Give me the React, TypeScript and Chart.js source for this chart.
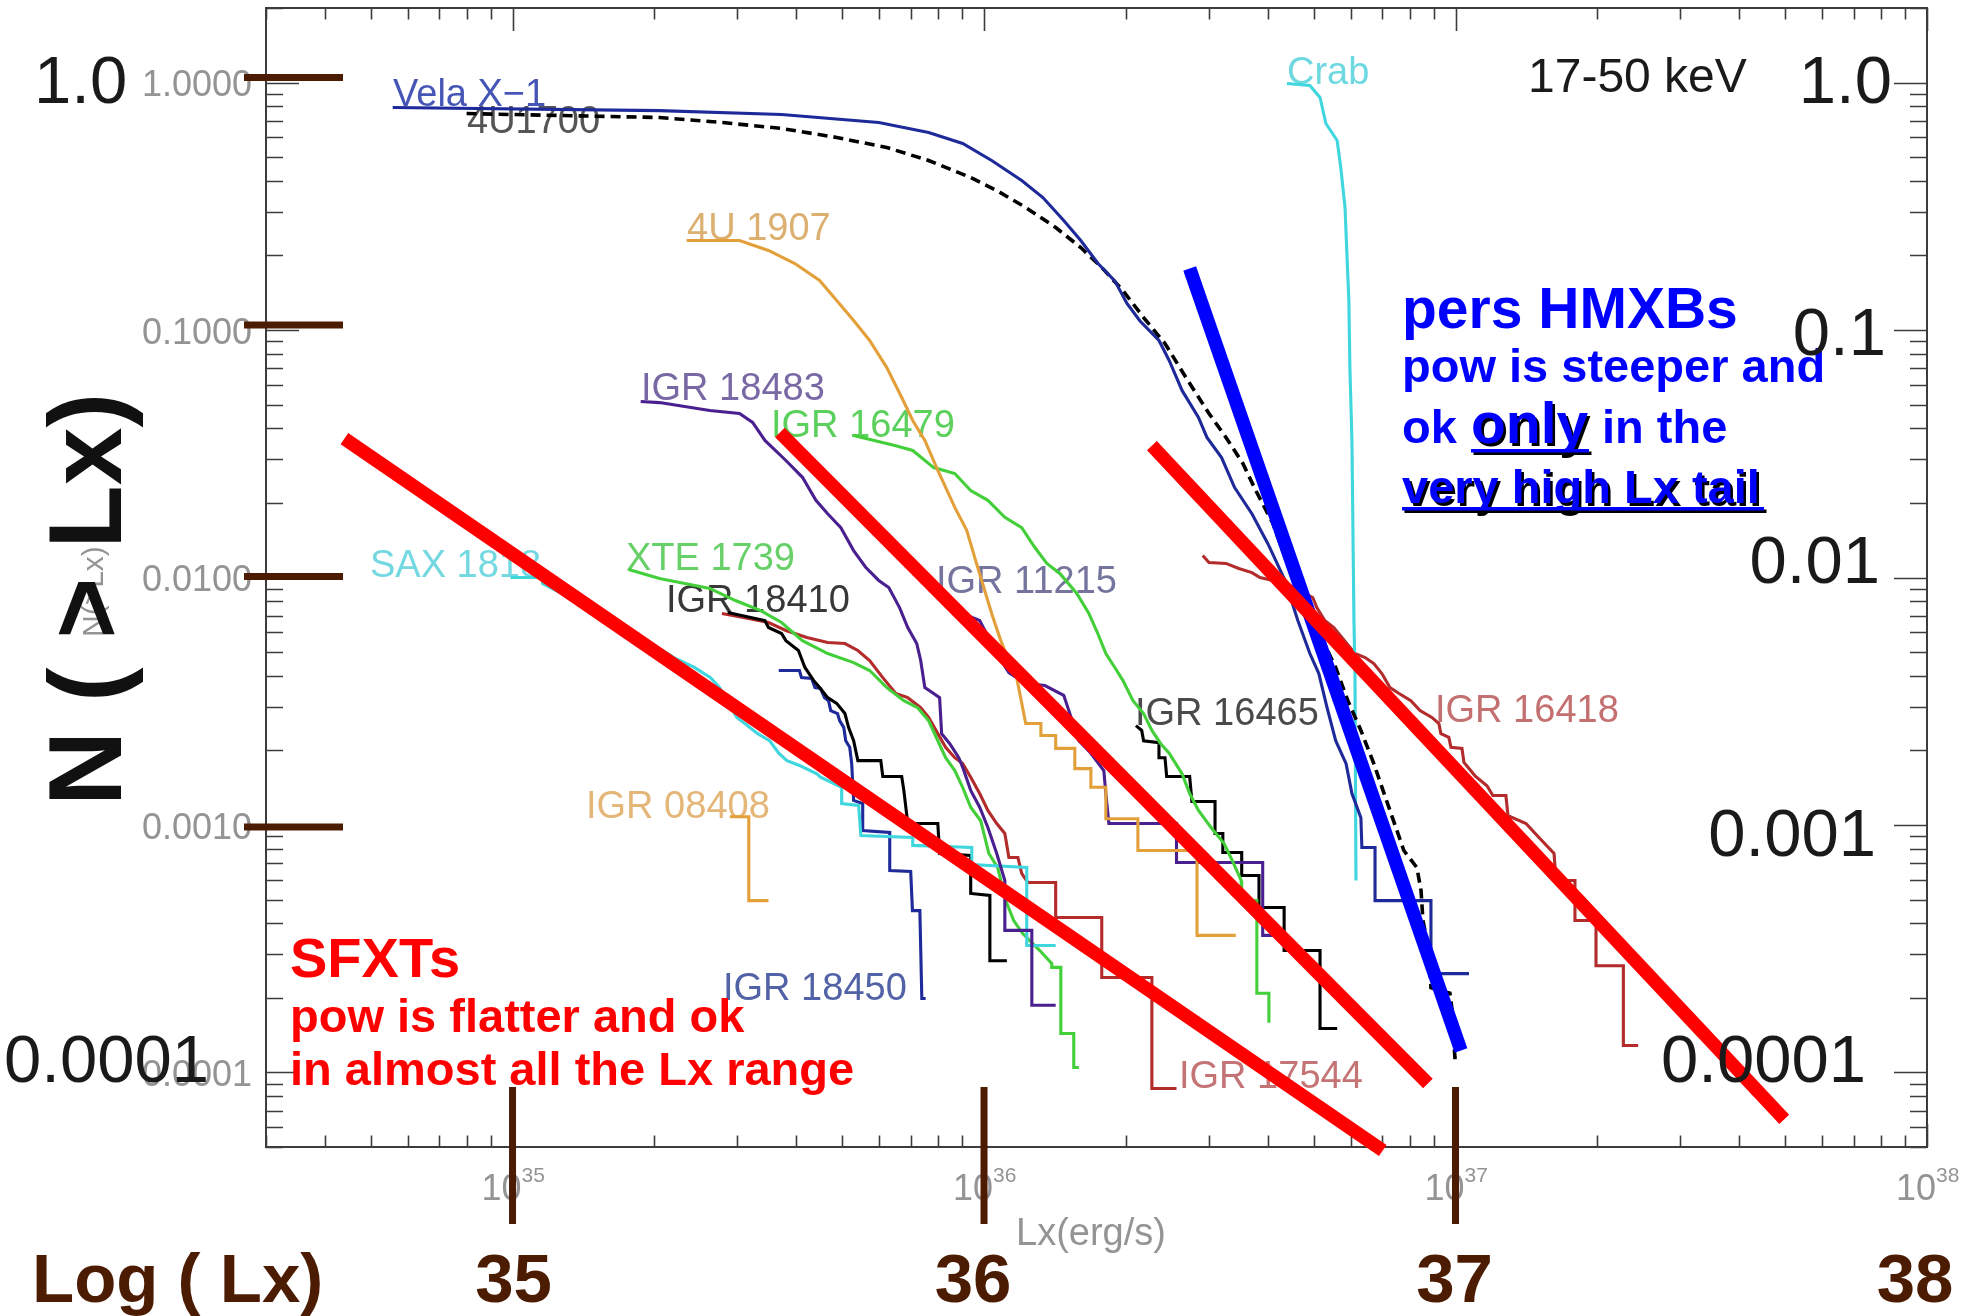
import React, { useEffect, useRef } from "react";
import { Chart, registerables } from "chart.js";

Chart.register(...registerables);

type Pt = [number, number];

const W = 1983;
const H = 1316;
const FONT = "'Liberation Sans', Arial, Helvetica, sans-serif";
const BROWN = "#4b1b02";

// ---- axis ranges ----
const X_MIN = 3e34;
const X_MAX = 1e38;
const Y_MIN = 5e-5;
const Y_MAX = 2;

// ---- tick labels ----
const xDecades = [35, 36, 37, 38];
const yIdlTickValues = [1, 0.1, 0.01, 0.001, 0.0001];
const yIdlTickLabels = ["1.0000", "0.1000", "0.0100", "0.0010", "0.0001"];
const brownYMarkValues = [1, 0.1, 0.01, 0.001];
const brownXMarkValues = [1e35, 1e36, 1e37];
const logLxValues = [1e35, 1e36, 1e37, 1e38];
const logLxLabels = ["35", "36", "37", "38"];
const bigRightValues = [1, 0.1, 0.01, 0.001, 0.0001];
const bigRightLabels = ["1.0", "0.1", "0.01", "0.001", "0.0001"];
const bigLeftValues = [1, 0.0001];
const bigLeftLabels = ["1.0", "0.0001"];

// ---- series: [Lx (erg/s), N(>Lx)] ----
const velaX1: Pt[] = [
  [5.57e34, 0.793], [2.05e35, 0.77], [3.72e35, 0.743], [5.98e35, 0.689], [7.63e35, 0.628],
  [9.01e35, 0.567], [1.038e36, 0.484], [1.202e36, 0.402], [1.333e36, 0.343], [1.476e36, 0.277],
  [1.604e36, 0.23], [1.743e36, 0.186], [1.894e36, 0.158], [2.01e36, 0.128], [2.14e36, 0.109],
  [2.35e36, 0.0907], [2.47e36, 0.0753], [2.63e36, 0.057], [2.85e36, 0.0443], [2.97e36, 0.0368],
  [3.19e36, 0.0305], [3.4e36, 0.0231], [3.7e36, 0.0181], [4.0e36, 0.0137], [4.35e36, 0.00973],
  [4.63e36, 0.0067], [4.91e36, 0.00493], [5.13e36, 0.00409], [5.34e36, 0.00298], [5.57e36, 0.00219],
  [5.86e36, 0.00177], [6.03e36, 0.00134], [6.3e36, 0.00107], [6.33e36, 0.000811], [6.75e36, 0.000811],
  [6.75e36, 0.000495], [8.87e36, 0.000495], [8.87e36, 0.000251], [1.068e37, 0.000251],
];
const src4U1700: Pt[] = [
  [7.99e34, 0.749], [2.05e35, 0.722], [2.79e35, 0.689], [3.72e35, 0.652], [4.87e35, 0.6],
  [6.22e35, 0.546], [7.63e35, 0.484], [9.37e35, 0.413], [1.064e36, 0.366], [1.226e36, 0.3126],
  [1.419e36, 0.2595], [1.604e36, 0.2154], [1.777e36, 0.1789], [1.97e36, 0.1444], [2.18e36, 0.1123],
  [2.42e36, 0.0882], [2.68e36, 0.0643], [3.0e36, 0.046], [3.26e36, 0.0368], [3.54e36, 0.0289],
  [3.77e36, 0.02246], [4.1e36, 0.01652], [4.43e36, 0.01098], [4.82e36, 0.00756], [5.23e36, 0.00556],
  [5.57e36, 0.00433], [5.91e36, 0.00318], [6.3e36, 0.00241], [6.71e36, 0.00177], [7.26e36, 0.001145],
  [7.77e36, 0.000789], [8.28e36, 0.000673], [8.45e36, 0.000544], [8.53e36, 0.000411], [8.79e36, 0.000311],
  [8.87e36, 0.00022], [9.73e36, 0.000209], [9.82e36, 0.000183], [9.97e36, 0.000115], [1.03e37, 0.000115],
];
const crab: Pt[] = [
  [4.39e36, 0.991], [4.91e36, 0.972], [5.16e36, 0.87], [5.31e36, 0.683], [5.61e36, 0.583],
  [5.71e36, 0.453], [5.83e36, 0.3126], [5.88e36, 0.2096], [5.94e36, 0.1315], [5.97e36, 0.0705],
  [6.03e36, 0.0358], [6.09e36, 0.0067], [6.12e36, 0.00409], [6.15e36, 0.000597],
];
const src4U1907: Pt[] = [
  [2.34e35, 0.23], [3.03e35, 0.23], [3.49e35, 0.2096], [3.97e35, 0.1856], [4.48e35, 0.1585],
  [4.87e35, 0.1315], [5.29e35, 0.1092], [5.72e35, 0.0907], [6.22e35, 0.0705], [6.69e35, 0.0534],
  [7.06e35, 0.0431], [7.49e35, 0.0358], [7.98e35, 0.0271], [8.67e35, 0.0192], [9.19e35, 0.0155],
  [9.6e35, 0.0117], [9.99e35, 0.00911], [1.038e36, 0.00715], [1.085e36, 0.00556], [1.129e36, 0.00462],
  [1.168e36, 0.00409], [1.191e36, 0.0034], [1.226e36, 0.00257], [1.32e36, 0.00257], [1.32e36, 0.0023],
  [1.419e36, 0.0023], [1.419e36, 0.00204], [1.558e36, 0.00204], [1.558e36, 0.00169], [1.685e36, 0.00169],
  [1.685e36, 0.00142], [1.813e36, 0.00142], [1.813e36, 0.00106], [2.12e36, 0.00106], [2.12e36, 0.000789],
  [2.83e36, 0.000789], [2.83e36, 0.000358], [3.42e36, 0.000358],
];
const igr18483: Pt[] = [
  [1.87e35, 0.0514], [2.05e35, 0.0509], [2.62e35, 0.0473], [3.03e35, 0.046], [3.23e35, 0.0423],
  [3.43e35, 0.0358], [3.8e35, 0.0297], [4.12e35, 0.0254], [4.4e35, 0.0205], [4.66e35, 0.0181],
  [4.97e35, 0.0159], [5.29e35, 0.01285], [5.61e35, 0.011], [5.98e35, 0.00973], [6.28e35, 0.00911],
  [6.62e35, 0.00756], [6.89e35, 0.00628], [7.2e35, 0.00541], [7.34e35, 0.00462], [7.49e35, 0.00359],
  [7.82e35, 0.0034], [8.05e35, 0.00327], [8.13e35, 0.00234], [8.46e35, 0.00213], [8.84e35, 0.00187],
  [9.01e35, 0.00171], [9.37e35, 0.00138], [9.79e35, 0.00118], [1.019e36, 0.000977], [1.064e36, 0.000767],
  [1.107e36, 0.000597], [1.107e36, 0.000375], [1.263e36, 0.000375], [1.263e36, 0.000187], [1.419e36, 0.000187],
];
const igr16479: Pt[] = [
  [5.29e35, 0.0375], [6.5e35, 0.0341], [7.06e35, 0.0326], [7.82e35, 0.0278], [8.67e35, 0.0263],
  [9.37e35, 0.02246], [1.019e36, 0.0205], [1.107e36, 0.0175], [1.202e36, 0.0159], [1.282e36, 0.01322],
  [1.359e36, 0.0114], [1.448e36, 0.01038], [1.573e36, 0.00862], [1.669e36, 0.00715], [1.743e36, 0.00594],
  [1.813e36, 0.00493], [1.894e36, 0.00433], [1.97e36, 0.00384], [2.07e36, 0.00318], [2.18e36, 0.00282],
  [2.27e36, 0.00241], [2.37e36, 0.00213], [2.47e36, 0.00195], [2.63e36, 0.00161], [2.73e36, 0.00134],
  [2.85e36, 0.001145], [3.03e36, 0.000977], [3.23e36, 0.000842], [3.36e36, 0.000719], [3.51e36, 0.000597],
  [3.52e36, 0.000495], [3.79e36, 0.000495], [3.79e36, 0.000209], [4.02e36, 0.000209], [4.02e36, 0.000159],
];
const igr11215: Pt[] = [
  [7.94e35, 0.00846], [8.46e35, 0.0075], [9.79e35, 0.0067], [1.064e36, 0.00493], [1.129e36, 0.00413],
  [1.226e36, 0.00373], [1.346e36, 0.00366], [1.476e36, 0.00334], [1.506e36, 0.00298], [1.589e36, 0.00219],
  [1.685e36, 0.00195], [1.795e36, 0.00166], [1.813e36, 0.00134], [1.84e36, 0.001014], [2.56e36, 0.001014],
  [2.56e36, 0.000705], [3.9e36, 0.000705], [3.9e36, 0.000358], [4.28e36, 0.000358],
];
const igr16465: Pt[] = [
  [2.1e36, 0.00252], [2.16e36, 0.00241], [2.18e36, 0.00219], [2.35e36, 0.00215], [2.35e36, 0.00187],
  [2.42e36, 0.00187], [2.44e36, 0.00157], [2.73e36, 0.00157], [2.76e36, 0.001245], [3.09e36, 0.001245],
  [3.09e36, 0.000924], [3.21e36, 0.000924], [3.21e36, 0.000774], [3.52e36, 0.000774], [3.52e36, 0.000625],
  [3.83e36, 0.000625], [3.83e36, 0.000464], [4.33e36, 0.000464], [4.33e36, 0.000311], [5.16e36, 0.000311],
  [5.16e36, 0.0001506], [5.61e36, 0.0001506],
];
const igr16418: Pt[] = [
  [2.91e36, 0.01227], [3.0e36, 0.0115], [3.26e36, 0.0114], [3.47e36, 0.01088], [3.7e36, 0.01047],
  [3.85e36, 0.01], [4.1e36, 0.00973], [4.45e36, 0.00928], [4.98e36, 0.0083], [5.08e36, 0.00756],
  [5.28e36, 0.0067], [5.52e36, 0.00628], [6.12e36, 0.00493], [6.43e36, 0.00475], [6.71e36, 0.00449],
  [6.98e36, 0.00409], [7.26e36, 0.00359], [7.59e36, 0.0034], [8.04e36, 0.00318], [8.41e36, 0.0029],
  [8.91e36, 0.00272], [9.22e36, 0.00257], [9.31e36, 0.00234], [9.68e36, 0.00226], [9.78e36, 0.00206],
  [1.032e37, 0.00204], [1.042e37, 0.00179], [1.1e37, 0.00158], [1.166e37, 0.00144], [1.2e37, 0.001316],
  [1.279e37, 0.001316], [1.292e37, 0.00109], [1.411e37, 0.001014], [1.503e37, 0.00089], [1.618e37, 0.000767],
  [1.634e37, 0.000597], [1.792e37, 0.000597], [1.792e37, 0.000411], [1.986e37, 0.000411], [1.986e37, 0.00027],
  [2.27e37, 0.00027], [2.27e37, 0.0001286], [2.44e37, 0.0001286],
];
const sax1818: Pt[] = [
  [9.9e34, 0.01], [1.158e35, 0.01], [1.158e35, 0.00946], [1.531e35, 0.00716], [1.746e35, 0.0062],
  [2.2e35, 0.00475], [2.43e35, 0.00433], [2.63e35, 0.00394], [2.75e35, 0.00359], [2.99e35, 0.00272],
  [3.11e35, 0.00257], [3.31e35, 0.00234], [3.51e35, 0.00219], [3.67e35, 0.00195], [3.82e35, 0.00182],
  [4.06e35, 0.00174], [4.42e35, 0.00161], [4.5e35, 0.00156], [4.99e35, 0.00142], [4.99e35, 0.00122],
  [5.42e35, 0.0012], [5.48e35, 0.000907], [7.06e35, 0.00089], [7.06e35, 0.000827], [9.42e35, 0.000811],
  [9.42e35, 0.000692], [1.232e36, 0.000673], [1.232e36, 0.000326], [1.419e36, 0.000326],
];
const xte1739: Pt[] = [
  [1.763e35, 0.01077], [2.05e35, 0.0099], [2.32e35, 0.00946], [2.62e35, 0.00903], [2.97e35, 0.00807],
  [3.36e35, 0.00735], [3.72e35, 0.00658], [4.12e35, 0.00556], [4.66e35, 0.00493], [5.29e35, 0.00453],
  [5.72e35, 0.00421], [6.22e35, 0.00359], [6.76e35, 0.00318], [7.23e35, 0.00298], [7.63e35, 0.00264],
  [7.98e35, 0.00219], [8.29e35, 0.00187], [8.67e35, 0.00166], [9.01e35, 0.00142], [9.37e35, 0.00118],
  [9.84e35, 0.00104], [1.024e36, 0.000767], [1.069e36, 0.000673], [1.112e36, 0.000495], [1.156e36, 0.000411],
  [1.208e36, 0.000364], [1.313e36, 0.000311], [1.392e36, 0.000276], [1.392e36, 0.000266], [1.455e36, 0.000266],
  [1.455e36, 0.0001438], [1.55e36, 0.0001438], [1.55e36, 0.0001047], [1.589e36, 0.0001047],
];
const igr18410: Pt[] = [
  [2.86e35, 0.00722], [3.43e35, 0.0067], [3.49e35, 0.00628], [3.72e35, 0.00594], [3.8e35, 0.00556],
  [4.04e35, 0.00507], [4.17e35, 0.00433], [4.35e35, 0.00384], [4.48e35, 0.00359], [4.66e35, 0.00327],
  [4.87e35, 0.0031], [5.07e35, 0.00282], [5.16e35, 0.00248], [5.29e35, 0.00219], [5.4e35, 0.00182],
  [6.04e35, 0.00182], [6.1e35, 0.00157], [6.69e35, 0.00157], [6.76e35, 0.00138], [6.89e35, 0.001014],
  [7.98e35, 0.001014], [8.05e35, 0.000767], [9.37e35, 0.000753], [9.37e35, 0.000529], [1.029e36, 0.000519],
  [1.029e36, 0.000283], [1.118e36, 0.000283],
];
const igr17544: Pt[] = [
  [2.78e35, 0.00715], [3.09e35, 0.0069], [3.49e35, 0.00658], [3.8e35, 0.00611], [4.21e35, 0.00572],
  [4.66e35, 0.00546], [5.07e35, 0.00541], [5.4e35, 0.00507], [5.72e35, 0.00462], [6.1e35, 0.00394],
  [6.5e35, 0.0034], [6.89e35, 0.00327], [7.34e35, 0.00298], [7.63e35, 0.00272], [7.98e35, 0.00234],
  [8.29e35, 0.00206], [8.67e35, 0.00187], [9.01e35, 0.00177], [9.37e35, 0.00156], [9.79e35, 0.00134],
  [1.019e36, 0.001145], [1.064e36, 0.001014], [1.107e36, 0.000924], [1.129e36, 0.000739], [1.18e36, 0.000739],
  [1.202e36, 0.000637], [1.238e36, 0.000586], [1.419e36, 0.000586], [1.419e36, 0.000423], [1.777e36, 0.000423],
  [1.777e36, 0.000242], [2.27e36, 0.000242], [2.27e36, 0.0000862], [2.56e36, 0.0000862],
];
const igr18450: Pt[] = [
  [3.67e35, 0.00421], [4.06e35, 0.00421], [4.1e35, 0.00394], [4.31e35, 0.00391], [4.38e35, 0.00359],
  [4.5e35, 0.00356], [4.59e35, 0.00327], [4.68e35, 0.00318], [4.73e35, 0.0029], [4.89e35, 0.00282],
  [4.94e35, 0.00264], [5.04e35, 0.00248], [5.09e35, 0.00219], [5.19e35, 0.00206], [5.24e35, 0.00177],
  [5.29e35, 0.001256], [5.53e35, 0.00122], [5.53e35, 0.00095], [6.31e35, 0.000933], [6.31e35, 0.000655],
  [6.99e35, 0.000649], [7.05e35, 0.000451], [7.31e35, 0.000451], [7.38e35, 0.000199], [7.52e35, 0.000199],
];
const igr08408: Pt[] = [
  [2.89e35, 0.00108], [3.17e35, 0.00108], [3.17e35, 0.000495], [3.49e35, 0.000495],
];

// ---- overlaid power-law fits ----
const sfxtFitA: Pt[] = [[4.4e34, 0.0364], [7.01e36, 4.84e-5]];
const sfxtFitB: Pt[] = [[3.69e35, 0.0385], [8.74e36, 9.03e-5]];
const sfxtFitC: Pt[] = [[2.27e36, 0.0341], [4.98e37, 6.46e-5]];
const hmxbFit: Pt[] = [[2.73e36, 0.1772], [1.027e37, 1.227e-4]];

// ---- styles / layout (kept apart from the data) ----
const NAVY = "#1e2a9a";
const CYAN = "#3fd6de";
const ORANGE = "#e3a03a";
const PURPLE = "#4a1f8f";
const GREEN = "#43cf3a";
const DARKRED = "#b32b2b";

interface CurveStyle {
  data: Pt[];
  label: string;
  color: string;
  labelColor: string;
  lx: number;
  ly: number;
  dash?: number[];
  width?: number;
}

const curves: CurveStyle[] = [
  { data: velaX1, label: "Vela X\u22121", color: NAVY, labelColor: "#4656b6", lx: 393, ly: 106 },
  { data: src4U1700, label: "4U1700", color: "#000", labelColor: "#555555", lx: 467, ly: 133, dash: [10, 6], width: 3.6 },
  { data: crab, label: "Crab", color: CYAN, labelColor: "#6ed8e0", lx: 1287, ly: 84 },
  { data: src4U1907, label: "4U 1907", color: ORANGE, labelColor: "#dcb070", lx: 687, ly: 240 },
  { data: igr18483, label: "IGR 18483", color: PURPLE, labelColor: "#7868a4", lx: 641, ly: 400 },
  { data: igr16479, label: "IGR 16479", color: GREEN, labelColor: "#5cd05c", lx: 771, ly: 437 },
  { data: igr11215, label: "IGR 11215", color: PURPLE, labelColor: "#74749e", lx: 936, ly: 593 },
  { data: igr16465, label: "IGR 16465", color: "#000", labelColor: "#4a4a4a", lx: 1135, ly: 725 },
  { data: igr16418, label: "IGR 16418", color: DARKRED, labelColor: "#c47070", lx: 1435, ly: 722 },
  { data: sax1818, label: "SAX 1818", color: CYAN, labelColor: "#74d8e0", lx: 370, ly: 577 },
  { data: xte1739, label: "XTE 1739", color: GREEN, labelColor: "#68d068", lx: 626, ly: 570 },
  { data: igr18410, label: "IGR 18410", color: "#000", labelColor: "#383838", lx: 666, ly: 612 },
  { data: igr17544, label: "IGR 17544", color: DARKRED, labelColor: "#c47474", lx: 1179, ly: 1088 },
  { data: igr18450, label: "IGR 18450", color: NAVY, labelColor: "#5262a6", lx: 723, ly: 1000 },
  { data: igr08408, label: "IGR 08408", color: ORANGE, labelColor: "#e4b678", lx: 586, ly: 818 },
];

const fits = [
  { data: sfxtFitA, color: "#ff0000" },
  { data: sfxtFitB, color: "#ff0000" },
  { data: sfxtFitC, color: "#ff0000" },
  { data: hmxbFit, color: "#0000ff" },
];

const brownYMarkOffsets = [-5, -5, -1, 2];
const logLxOffsets = [1, -11, -1, -12];
const bigRightLayout = [
  { right: 1892, dy: 20 },
  { right: 1886, dy: 25 },
  { right: 1880, dy: 5 },
  { right: 1876, dy: 31 },
  { right: 1866, dy: 10 },
];
const bigLeftLayout = [
  { left: 34, dy: 20 },
  { left: 4, dy: 10 },
];

const toXY = (pts: Pt[]) => pts.map(([x, y]) => ({ x, y }));

function shadowText(ctx: CanvasRenderingContext2D, text: string, x: number, y: number, color: string) {
  ctx.fillStyle = "#000";
  ctx.fillText(text, x + 2.5, y + 2.5);
  ctx.fillStyle = color;
  ctx.fillText(text, x, y);
}

function shadowLine(ctx: CanvasRenderingContext2D, x1: number, x2: number, y: number, color: string) {
  ctx.fillStyle = "#000";
  ctx.fillRect(x1 + 2.5, y + 2.5, x2 - x1, 3.5);
  ctx.fillStyle = color;
  ctx.fillRect(x1, y, x2 - x1, 3.5);
}

const decorPlugin = {
  id: "decor",
  beforeDatasetsDraw(chart: any) {
    const ctx: CanvasRenderingContext2D = chart.ctx;
    const a = chart.chartArea;
    const xs = chart.scales.x;
    const ys = chart.scales.y;
    ctx.save();
    ctx.strokeStyle = "#3c3c3c";
    ctx.lineWidth = 2;
    ctx.strokeRect(a.left, a.top, a.right - a.left, a.bottom - a.top);
    ctx.lineWidth = 1.6;
    ctx.beginPath();
    for (let d = 34; d <= 38; d++) {
      for (let m = 1; m <= 9; m++) {
        const v = m * Math.pow(10, d);
        if (v < X_MIN * 0.999 || v > X_MAX * 1.001) continue;
        const px = Math.round(xs.getPixelForValue(v)) + 0.5;
        const len = m === 1 ? 23 : 11.5;
        ctx.moveTo(px, a.bottom);
        ctx.lineTo(px, a.bottom - len);
        ctx.moveTo(px, a.top);
        ctx.lineTo(px, a.top + len);
      }
    }
    for (let d = -5; d <= 0; d++) {
      for (let m = 1; m <= 9; m++) {
        const v = m * Math.pow(10, d);
        if (v < Y_MIN * 0.999 || v > Y_MAX * 1.001) continue;
        const py = Math.round(ys.getPixelForValue(v)) + 0.5;
        const len = m === 1 ? 33 : 17;
        ctx.moveTo(a.left, py);
        ctx.lineTo(a.left + len, py);
        ctx.moveTo(a.right, py);
        ctx.lineTo(a.right - len, py);
      }
    }
    ctx.stroke();

    // IDL tick labels
    ctx.fillStyle = "#949494";
    ctx.font = `36px ${FONT}`;
    ctx.textAlign = "right";
    ctx.textBaseline = "middle";
    yIdlTickValues.forEach((v, i) => {
      ctx.fillText(yIdlTickLabels[i], a.left - 14, ys.getPixelForValue(v) + 4);
    });
    ctx.textAlign = "left";
    ctx.textBaseline = "alphabetic";
    xDecades.forEach((e) => {
      const px = xs.getPixelForValue(Math.pow(10, e));
      ctx.font = `36px ${FONT}`;
      ctx.fillText("10", px - 31, a.bottom + 53);
      ctx.font = `21px ${FONT}`;
      ctx.fillText(String(e), px + 9, a.bottom + 35);
    });
    ctx.font = `38px ${FONT}`;
    ctx.fillText("Lx(erg/s)", 1016, 1245);
    ctx.save();
    ctx.translate(103, 637);
    ctx.rotate(-Math.PI / 2);
    ctx.font = `30px ${FONT}`;
    ctx.fillText("N(>Lx)", 0, 0);
    ctx.restore();

    // curve labels
    ctx.font = `38px ${FONT}`;
    curves.forEach((c) => {
      ctx.fillStyle = c.labelColor;
      ctx.fillText(c.label, c.lx, c.ly);
    });
    ctx.restore();
  },
  afterDatasetsDraw(chart: any) {
    const ctx: CanvasRenderingContext2D = chart.ctx;
    const xs = chart.scales.x;
    const ys = chart.scales.y;
    ctx.save();
    ctx.textBaseline = "alphabetic";

    // brown marks
    ctx.fillStyle = BROWN;
    brownYMarkValues.forEach((v, i) => {
      const py = ys.getPixelForValue(v) + brownYMarkOffsets[i];
      ctx.fillRect(244, py - 3.5, 99, 7);
    });
    brownXMarkValues.forEach((v) => {
      const px = xs.getPixelForValue(v);
      ctx.fillRect(px - 3.5, 1087, 7, 137);
    });
    ctx.font = `bold 69px ${FONT}`;
    ctx.textAlign = "left";
    ctx.fillText("Log ( Lx)", 32, 1302);
    ctx.textAlign = "center";
    logLxValues.forEach((v, i) => {
      ctx.fillText(logLxLabels[i], xs.getPixelForValue(v) + logLxOffsets[i], 1302);
    });

    // blue annotation
    ctx.textAlign = "left";
    const BLUE = "#0000ff";
    ctx.fillStyle = BLUE;
    ctx.font = `bold 57px ${FONT}`;
    ctx.fillText("pers HMXBs", 1402, 328);
    ctx.font = `bold 47px ${FONT}`;
    ctx.fillText("pow is steeper and", 1402, 382);
    ctx.fillText("ok", 1402, 443);
    ctx.font = `bold 57px ${FONT}`;
    shadowText(ctx, "only", 1471, 443, BLUE);
    shadowLine(ctx, 1471, 1589, 449, BLUE);
    ctx.font = `bold 47px ${FONT}`;
    ctx.fillStyle = BLUE;
    ctx.fillText("in the", 1602, 443);
    shadowText(ctx, "very high Lx tail", 1402, 503, BLUE);
    shadowLine(ctx, 1402, 1764, 507, BLUE);

    // red annotation
    ctx.fillStyle = "#ff0000";
    ctx.font = `bold 56px ${FONT}`;
    ctx.fillText("SFXTs", 290, 977);
    ctx.font = `bold 47px ${FONT}`;
    ctx.fillText("pow is flatter and ok", 290, 1032);
    ctx.fillText("in almost all the Lx range", 290, 1085);

    // big black value labels
    ctx.fillStyle = "#1a1a1a";
    ctx.font = `67px ${FONT}`;
    ctx.textAlign = "right";
    bigRightValues.forEach((v, i) => {
      ctx.fillText(bigRightLabels[i], bigRightLayout[i].right, ys.getPixelForValue(v) + bigRightLayout[i].dy);
    });
    ctx.textAlign = "left";
    bigLeftValues.forEach((v, i) => {
      ctx.fillText(bigLeftLabels[i], bigLeftLayout[i].left, ys.getPixelForValue(v) + bigLeftLayout[i].dy);
    });
    ctx.font = `48px ${FONT}`;
    ctx.fillText("17-50 keV", 1528, 92);

    // big vertical title
    ctx.save();
    ctx.translate(121, 806);
    ctx.rotate(-Math.PI / 2);
    ctx.fillStyle = "#111";
    ctx.font = `bold 104px ${FONT}`;
    ctx.fillText("N ( > Lx)", 0, 0);
    ctx.restore();

    ctx.restore();
  },
};

export default function App() {
  const ref = useRef<HTMLCanvasElement>(null);
  useEffect(() => {
    if (!ref.current) return;
    const datasets: any[] = [
      ...fits.map((f) => ({
        data: toXY(f.data),
        borderColor: f.color,
        backgroundColor: f.color,
        borderWidth: 13.5,
        borderCapStyle: "butt",
        showLine: true,
        pointRadius: 0,
        order: 0,
        clip: false,
      })),
      ...curves.map((c) => ({
        data: toXY(c.data),
        borderColor: c.color,
        backgroundColor: c.color,
        borderWidth: c.width ?? 3.1,
        borderDash: c.dash ?? [],
        showLine: true,
        pointRadius: 0,
        order: 1,
      })),
    ];
    const chart = new Chart(ref.current, {
      type: "scatter",
      data: { datasets },
      options: {
        responsive: false,
        animation: false,
        devicePixelRatio: 1,
        events: [],
        layout: { padding: { left: 266, top: 8, right: 56, bottom: 169 } },
        plugins: { legend: { display: false }, tooltip: { enabled: false } },
        elements: { point: { radius: 0 }, line: { tension: 0 } },
        scales: {
          x: { type: "logarithmic", min: X_MIN, max: X_MAX, display: false },
          y: { type: "logarithmic", min: Y_MIN, max: Y_MAX, display: false },
        },
      } as any,
      plugins: [decorPlugin as any],
    });
    return () => chart.destroy();
  }, []);
  return (
    <div style={{ position: "absolute", left: 0, top: 0, width: W, height: H, background: "#fff" }}>
      <canvas ref={ref} width={W} height={H} style={{ display: "block", width: W, height: H }} />
    </div>
  );
}
